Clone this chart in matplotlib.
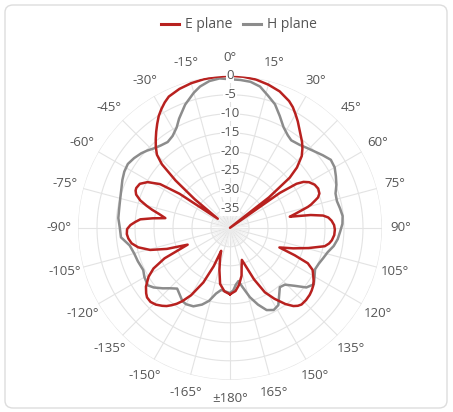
import numpy as np
import matplotlib
matplotlib.use("Agg")
import matplotlib.pyplot as plt
from matplotlib.patches import FancyBboxPatch
from matplotlib.lines import Line2D

plt.rcParams['font.family'] = ['Open Sans', 'DejaVu Sans']

# ---------------- data ----------------
e_angles = [-180, -175, -170, -166, -162, -159, -157, -154, -150, -147, -145, -143, -141, -139, -136, -133, -130, -128,
            -125, -121, -118, -115, -111.7, -108.5, -105.5, -102, -99, -96, -93.5, -91, -90.5, -88.4,
            -86.5, -84.6, -83, -81.5, -79, -77, -75.2, -73, -70.5, -68.5, -67, -64, -61, -58, -56, -53.4,
            -51, -49, -47, -45, -42.5, -40, -37.5, -35, -32.5, -30, -27.5, -25, -20, -15, -10, -5, 0, 5, 10, 15, 20, 25, 27.5, 30,
            32.5, 35, 37.5, 40, 42.5, 45, 48, 50, 52, 53.5, 55, 56.5, 58, 60, 63, 66, 69, 71, 72, 74, 75, 78, 79.5, 81, 82.5,
            84, 86, 88.5, 91, 94, 97, 99, 101, 104.5, 108, 111.7, 113, 114.5, 117, 120, 122.5, 125, 127.5, 130, 133.5, 137, 139, 141, 144,
            148, 151.6, 155, 159.7, 163, 166.5, 171, 175, 180]
e_db = [-22.5, -23.2, -25.0, -28.5, -31.5, -33.5, -29.0, -24.0, -19.5, -17.0, -15.6, -14.5, -13.5, -12.8, -11.9, -11.4, -11.5, -12.0,
        -13.0, -15.0, -17.2, -21.0, -28.0, -22.5, -18.2, -15.3, -13.8, -13.1, -12.8, -12.9, -13.0, -13.8,
        -15.0, -16.3, -19.5, -22.8, -21.0, -19.0, -17.3, -15.3, -13.8, -13.3, -13.2, -13.6, -15.2, -18.3, -24.0, -36.0,
        -28.0, -21.0, -15.5, -12.8, -11.1, -9.6, -8.1, -6.6, -5.1, -3.9, -2.8, -1.9, -1.1, -0.6, -0.3, -0.1, 0.0, -0.1, -0.4, -1.0, -1.8, -3.2, -4.2, -5.5,
        -6.8, -8.2, -9.4, -10.5, -11.8, -13.3, -16.3, -19.5, -27.0, -40.0, -24.0, -19.0, -17.2, -16.0, -15.0, -14.6, -14.8, -15.5, -16.3, -17.8, -18.8, -22.5, -24.0, -18.5, -15.3,
        -14.0, -13.2, -12.6, -12.4, -12.5, -13.0, -13.6, -14.6, -18.7, -22.5, -26.0, -21.5, -17.5, -15.6, -14.7, -13.9, -13.3, -12.9, -12.6, -12.4, -12.4, -12.8, -13.5, -15.2,
        -18.0, -20.7, -25.0, -31.0, -29.5, -27.0, -24.8, -23.3, -22.5]

h_angles = [-180, -176, -172, -168, -164, -160, -155, -150, -147, -143, -139, -135, -132, -128, -125,
            -120, -116, -110, -105, -100, -95, -90, -85, -80, -75, -70, -66, -62, -58, -54, -50, -47,
            -44, -40, -36, -32, -28, -25, -20, -15, -12, -8, -4, 0, 4, 8, 12, 16, 20, 24, 28, 32, 35,
            40, 44, 48, 52, 56, 60, 64, 68, 72, 76, 80, 84, 88, 92, 96, 100, 104, 108, 112, 116, 120,
            124, 128, 132, 136, 140, 144, 148, 152, 156, 160, 164, 168, 171, 174, 177, 180]
h_db = [-22.8, -23.2, -23.5, -22.3, -20.0, -18.5, -17.2, -16.8, -17.0, -18.0, -18.8, -17.5, -16.2, -14.5, -13.6,
        -14.0, -14.6, -14.2, -13.9, -13.2, -11.2, -11.0, -10.5, -10.4, -10.1, -9.6, -9.0, -8.5, -8.3, -8.8, -9.5, -10.2,
        -11.0, -11.7, -12.1, -11.5, -10.1, -8.3, -5.5, -3.2, -2.0, -1.0, -0.6, -0.9, -1.0, -1.2, -2.0, -3.8, -5.4, -7.8, -10.0, -11.3, -11.9,
        -11.5, -10.8, -10.0, -9.0, -8.0, -8.2, -9.0, -9.8, -10.8, -11.0, -10.6, -10.2, -10.4, -11.0, -11.5, -12.3, -13.5, -14.2, -14.8, -15.1, -14.3,
        -13.4, -14.5, -17.2, -19.2, -19.6, -18.0, -16.0, -15.5, -16.3, -18.5, -21.0, -24.0, -25.8, -25.0, -23.5, -22.8]

radial_ticks = [0, -5, -10, -15, -20, -25, -30, -35]
angle_ticks = list(range(-165, 181, 15))
series_names = ["E plane", "H plane"]

# ---------------- figure ----------------
W, H = 453, 412
fig = plt.figure(figsize=(W / 100, H / 100), dpi=100)
fig.patch.set_facecolor('white')

border = FancyBboxPatch((5 / W, 4 / H), (442 / W), (403 / H),
                        boxstyle="round,pad=0,rounding_size=0.018",
                        transform=fig.transFigure, facecolor='none',
                        edgecolor='#dddddd', linewidth=1.0, zorder=-5)
fig.patches.append(border)

cx, cy, R = 230, 227.8, 152
ax = fig.add_axes([(cx - R) / W, (H - cy - R) / H, 2 * R / W, 2 * R / H], projection='polar')
ax.set_theta_zero_location('N')
ax.set_theta_direction(-1)
ax.set_ylim(-40, 0)
ax.set_facecolor('none')
ax.grid(False)
ax.set_xticks([])
ax.set_yticks([])
ax.spines['polar'].set_visible(False)

grid_c = '#e3e3e3'
th = np.linspace(0, 2 * np.pi, 361)
for r in [-35, -30, -25, -20, -15, -10, -5, 0]:
    ax.plot(th, np.full_like(th, r), color=grid_c, lw=0.8, zorder=1)
for a in range(0, 360, 15):
    ax.plot([np.deg2rad(a)] * 2, [-40, 0], color=grid_c, lw=0.8, zorder=1)
for a in range(0, 360, 5):
    if a % 15:
        ax.plot([np.deg2rad(a)] * 2, [-40, -35], color='#ececec', lw=0.5, zorder=1)

ax.plot(np.deg2rad(h_angles), np.clip(h_db, -40, 0), color='#8c8c8c', lw=1.8, zorder=3,
        solid_joinstyle='round')
ax.plot(np.deg2rad(e_angles), np.clip(e_db, -40, 0), color='#b8211f', lw=1.8, zorder=4,
        solid_joinstyle='round')

text_c = '#555555'
for r in radial_ticks:
    ax.text(0, r, str(r), ha='center', va='center', fontsize=9.5, color=text_c, zorder=5,
            bbox=dict(boxstyle='square,pad=0.05', fc='white', ec='none'))

for a in angle_ticks:
    lab = '±180°' if a == 180 else f'{a}°'
    ax.text(np.deg2rad(a), 4.9, lab, ha='center', va='center', fontsize=9.5, color=text_c,
            clip_on=False)

handles = [Line2D([], [], color='#b8211f', lw=2.2), Line2D([], [], color='#8c8c8c', lw=2.2)]
fig.legend(handles, series_names, loc='center', bbox_to_anchor=(239 / W, 1 - 25 / H), ncol=2,
           frameon=False, fontsize=10, handlelength=1.3, handletextpad=0.4, columnspacing=0.8,
           labelcolor=text_c)

fig.savefig('out.png', dpi=100, facecolor='white')
